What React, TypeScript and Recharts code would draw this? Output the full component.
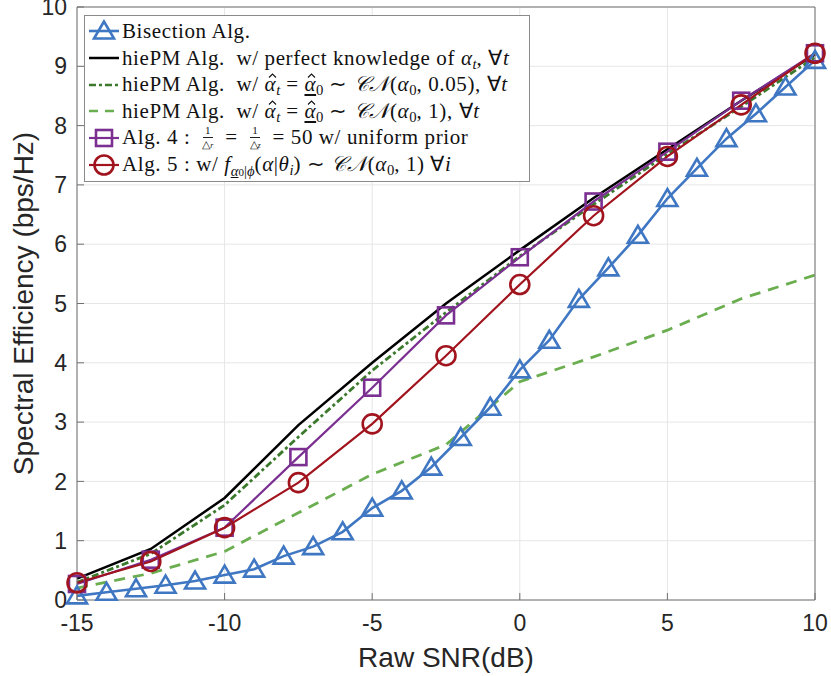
import { LineChart, Line, XAxis, YAxis, CartesianGrid, Label } from 'recharts';

// ── Data ──────────────────────────────────────────────────────────────────────

const snrFine = [-15, -14, -13, -12, -11, -10, -9, -8, -7, -6, -5, -4, -3, -2, -1, 0, 1, 2, 3, 4, 5, 6, 7, 8, 9, 10];
const bisection = [0.07, 0.13, 0.19, 0.25, 0.32, 0.42, 0.52, 0.74, 0.9, 1.15, 1.55, 1.84, 2.24, 2.74, 3.25, 3.88, 4.38, 5.07, 5.6, 6.15, 6.77, 7.28, 7.78, 8.2, 8.65, 9.1];

const snrCoarse = [-15, -12.5, -10, -7.5, -5, -2.5, 0, 2.5, 5, 7.5, 10];
const hiePMPerfect = [0.36, 0.86, 1.72, 2.95, 4.0, 5.0, 5.9, 6.78, 7.6, 8.42, 9.2];
const hiePMVar005 = [0.3, 0.78, 1.6, 2.75, 3.87, 4.85, 5.8, 6.67, 7.52, 8.32, 9.15];
const hiePMVar1 = [0.2, 0.45, 0.82, 1.47, 2.12, 2.62, 3.68, 4.1, 4.55, 5.08, 5.48];
const alg4 = [0.27, 0.68, 1.22, 2.41, 3.58, 4.8, 5.78, 6.72, 7.56, 8.42, 9.22];
const alg5 = [0.29, 0.65, 1.22, 1.98, 2.97, 4.12, 5.32, 6.48, 7.48, 8.35, 9.22];

const xTicks = [-15, -10, -5, 0, 5, 10];
const yTicks = [0, 1, 2, 3, 4, 5, 6, 7, 8, 9, 10];

const toRows = (xs: number[], ys: number[]) => xs.map((snr, i) => ({ snr, se: ys[i] }));

const BLUE = '#3F77C3';
const GREEN_DARK = '#3B7A2C';
const GREEN_LIGHT = '#6AAE4F';
const PURPLE = '#7A2F91';
const RED = '#A1141E';
const AXIS = '#707070';
const TICK_TEXT = '#262626';

// ── Markers ───────────────────────────────────────────────────────────────────

function Triangle({ cx, cy }: any) {
  if (cx == null || cy == null) return null;
  return (
    <polygon
      points={`${cx},${cy - 9.5} ${cx - 10},${cy + 7.5} ${cx + 10},${cy + 7.5}`}
      fill="none"
      stroke={BLUE}
      strokeWidth={2.6}
    />
  );
}

function Square({ cx, cy }: any) {
  if (cx == null || cy == null) return null;
  return <rect x={cx - 8} y={cy - 8} width={16} height={16} fill="none" stroke={PURPLE} strokeWidth={2.6} />;
}

function Circle({ cx, cy }: any) {
  if (cx == null || cy == null) return null;
  return <circle cx={cx} cy={cy} r={9.5} fill="none" stroke={RED} strokeWidth={2.6} />;
}

// ── Legend ────────────────────────────────────────────────────────────────────

const sub: React.CSSProperties = { fontSize: '0.7em', verticalAlign: '-0.3em', lineHeight: 0, letterSpacing: 0 };
const it: React.CSSProperties = { fontStyle: 'italic' };

// alpha with a hat drawn above it (hat is a small svg stroke, not a glyph)
function AlphaHat({ under }: { under?: boolean }) {
  return (
    <span style={{ position: 'relative', display: 'inline-block', fontStyle: 'italic', textDecoration: under ? 'underline' : 'none', textUnderlineOffset: 3 }}>
      α
      <svg width={9} height={5} style={{ position: 'absolute', left: 3, top: 1 }}>
        <polyline points="1,4.5 4.5,1 8,4.5" fill="none" stroke="#111" strokeWidth={1.1} />
      </svg>
    </span>
  );
}

function Frac({ den }: { den: string }) {
  return (
    <span style={{ display: 'inline-flex', flexDirection: 'column', alignItems: 'center', verticalAlign: 'middle', fontSize: 11, lineHeight: '11px', margin: '0 6px', letterSpacing: 0, position: 'relative', top: -1 }}>
      <span style={{ borderBottom: '1px solid #222', padding: '0 2px 1px' }}>1</span>
      <span style={{ paddingTop: 1 }}>△<span style={{ ...it, fontSize: 8 }}>{den}</span></span>
    </span>
  );
}

function Sample({ kind }: { kind: string }) {
  const y = 13;
  return (
    <svg width={34} height={26} style={{ flex: 'none' }}>
      {kind === 'tri' && (
        <>
          <line x1={2} x2={32} y1={y} y2={y} stroke={BLUE} strokeWidth={2.6} />
          <polygon points={`17,${y - 9.5} 7,${y + 7.5} 27,${y + 7.5}`} fill="none" stroke={BLUE} strokeWidth={2.6} />
        </>
      )}
      {kind === 'black' && <line x1={2} x2={32} y1={y} y2={y} stroke="#000" strokeWidth={2.5} />}
      {kind === 'dashdot' && <line x1={2} x2={32} y1={y} y2={y} stroke={GREEN_DARK} strokeWidth={2.6} strokeDasharray="7 3 3 3" />}
      {kind === 'dash' && <line x1={2} x2={32} y1={y} y2={y} stroke={GREEN_LIGHT} strokeWidth={2.6} strokeDasharray="9 7" />}
      {kind === 'sq' && (
        <>
          <line x1={2} x2={32} y1={y} y2={y} stroke={PURPLE} strokeWidth={2.2} />
          <rect x={9} y={y - 8} width={16} height={16} fill="none" stroke={PURPLE} strokeWidth={2.6} />
        </>
      )}
      {kind === 'circ' && (
        <>
          <line x1={2} x2={32} y1={y} y2={y} stroke={RED} strokeWidth={2.2} />
          <circle cx={17} cy={y} r={9.5} fill="none" stroke={RED} strokeWidth={2.6} />
        </>
      )}
    </svg>
  );
}

function Row({ kind, children }: { kind: string; children: React.ReactNode }) {
  return (
    <div style={{ display: 'flex', alignItems: 'center', height: 26.7, whiteSpace: 'nowrap' }}>
      <Sample kind={kind} />
      <span style={{ marginLeft: 1 }}>{children}</span>
    </div>
  );
}

function ChartLegend() {
  return (
    <div
      style={{
        position: 'absolute',
        left: 84,
        top: 15,
        width: 446,
        height: 167,
        boxSizing: 'border-box',
        border: '1px solid #8a8a8a',
        background: '#fff',
        padding: '2px 0 0 2px',
        fontFamily: '"Liberation Serif", serif',
        fontSize: 21,
        letterSpacing: 0.6,
        color: '#111',
      }}
    >
      <Row kind="tri">Bisection Alg.</Row>
      <Row kind="black">
        hiePM Alg.&nbsp; w/ perfect knowledge of <i>α</i><span style={{ ...sub, ...it }}>t</span>, ∀<i>t</i>
      </Row>
      <Row kind="dashdot">
        hiePM Alg.&nbsp; w/ <AlphaHat /><span style={{ ...sub, ...it }}>t</span> = <AlphaHat under /><span style={sub}>0</span> ∼ <i>𝒞𝒩</i>(<i>α</i><span style={sub}>0</span>, 0.05), ∀<i>t</i>
      </Row>
      <Row kind="dash">
        hiePM Alg.&nbsp; w/ <AlphaHat /><span style={{ ...sub, ...it }}>t</span> = <AlphaHat under /><span style={sub}>0</span> ∼ <i>𝒞𝒩</i>(<i>α</i><span style={sub}>0</span>, 1), ∀<i>t</i>
      </Row>
      <Row kind="sq">
        Alg. 4 : <Frac den="r" /> = <Frac den="z" /> = 50 w/ uniform prior
      </Row>
      <Row kind="circ">
        Alg. 5 : w/ <i>f</i><span style={sub}><u><i>α</i></u><span style={{ fontSize: '0.75em' }}>0</span>|<i>ϕ</i></span>(<i>α</i>|<i>θ</i><span style={{ ...sub, ...it }}>i</span>) ∼ <i>𝒞𝒩</i>(<i>α</i><span style={sub}>0</span>, 1) ∀<i>i</i>
      </Row>
    </div>
  );
}

// ── Chart ─────────────────────────────────────────────────────────────────────

const tickStyle = { fontSize: 23, fontFamily: '"Liberation Sans", Arial, sans-serif', fill: TICK_TEXT };

export default function App() {
  return (
    <div style={{ position: 'absolute', left: 0, top: 0, width: 831, height: 676, background: '#fff' }}>
      <LineChart width={831} height={676} margin={{ top: 6, right: 15, bottom: 0, left: 0 }}>
        <CartesianGrid stroke="#e6e6e6" strokeWidth={1} horizontalValues={yTicks} verticalValues={xTicks} />

        <XAxis
          dataKey="snr"
          type="number"
          domain={[-15, 10]}
          ticks={xTicks}
          allowDuplicatedCategory={false}
          height={76}
          stroke={AXIS}
          tick={tickStyle}
          tickSize={-7}
          tickMargin={22}
          interval={0}
        >
          <Label
            content={({ viewBox }: any) => (
              <text
                x={viewBox.x + viewBox.width / 2}
                y={viewBox.y + 57}
                textAnchor="middle"
                dominantBaseline="central"
                fontSize={28}
                fontFamily='"Liberation Sans", Arial, sans-serif'
                fill={TICK_TEXT}
              >
                Raw SNR(dB)
              </text>
            )}
          />
        </XAxis>
        <XAxis
          xAxisId="top"
          orientation="top"
          type="number"
          domain={[-15, 10]}
          ticks={xTicks}
          height={1}
          stroke={AXIS}
          tick={false}
          tickSize={-7}
          interval={0}
        />

        <YAxis
          type="number"
          domain={[0, 10]}
          ticks={yTicks}
          width={77}
          stroke={AXIS}
          tick={tickStyle}
          tickSize={-7}
          tickMargin={17}
          interval={0}
        >
          <Label
            content={({ viewBox }: any) => {
              const cx = 23;
              const cy = viewBox.y + viewBox.height / 2;
              return (
                <text
                  x={cx}
                  y={cy}
                  transform={`rotate(-90 ${cx} ${cy})`}
                  textAnchor="middle"
                  dominantBaseline="central"
                  fontSize={28}
                  fontFamily='"Liberation Sans", Arial, sans-serif'
                  fill={TICK_TEXT}
                >
                  Spectral Efficiency (bps/Hz)
                </text>
              );
            }}
          />
        </YAxis>
        <YAxis
          yAxisId="right"
          orientation="right"
          type="number"
          domain={[0, 10]}
          ticks={yTicks}
          width={1}
          stroke={AXIS}
          tick={false}
          tickSize={-7}
          interval={0}
        />

        <Line
          data={toRows(snrCoarse, hiePMVar1)}
          dataKey="se"
          stroke={GREEN_LIGHT}
          strokeWidth={2.8}
          strokeDasharray="11 8"
          dot={false}
          isAnimationActive={false}
        />
        <Line
          data={toRows(snrCoarse, hiePMPerfect)}
          dataKey="se"
          stroke="#000"
          strokeWidth={2.5}
          dot={false}
          isAnimationActive={false}
        />
        <Line
          data={toRows(snrCoarse, hiePMVar005)}
          dataKey="se"
          stroke={GREEN_DARK}
          strokeWidth={2.8}
          strokeDasharray="7 3 3 3"
          dot={false}
          isAnimationActive={false}
        />
        <Line
          data={toRows(snrFine, bisection)}
          dataKey="se"
          stroke={BLUE}
          strokeWidth={2.6}
          dot={<Triangle />}
          isAnimationActive={false}
        />
        <Line
          data={toRows(snrCoarse, alg4)}
          dataKey="se"
          stroke={PURPLE}
          strokeWidth={2.2}
          dot={<Square />}
          isAnimationActive={false}
        />
        <Line
          data={toRows(snrCoarse, alg5)}
          dataKey="se"
          stroke={RED}
          strokeWidth={2.2}
          dot={<Circle />}
          isAnimationActive={false}
        />
      </LineChart>
      <ChartLegend />
    </div>
  );
}
